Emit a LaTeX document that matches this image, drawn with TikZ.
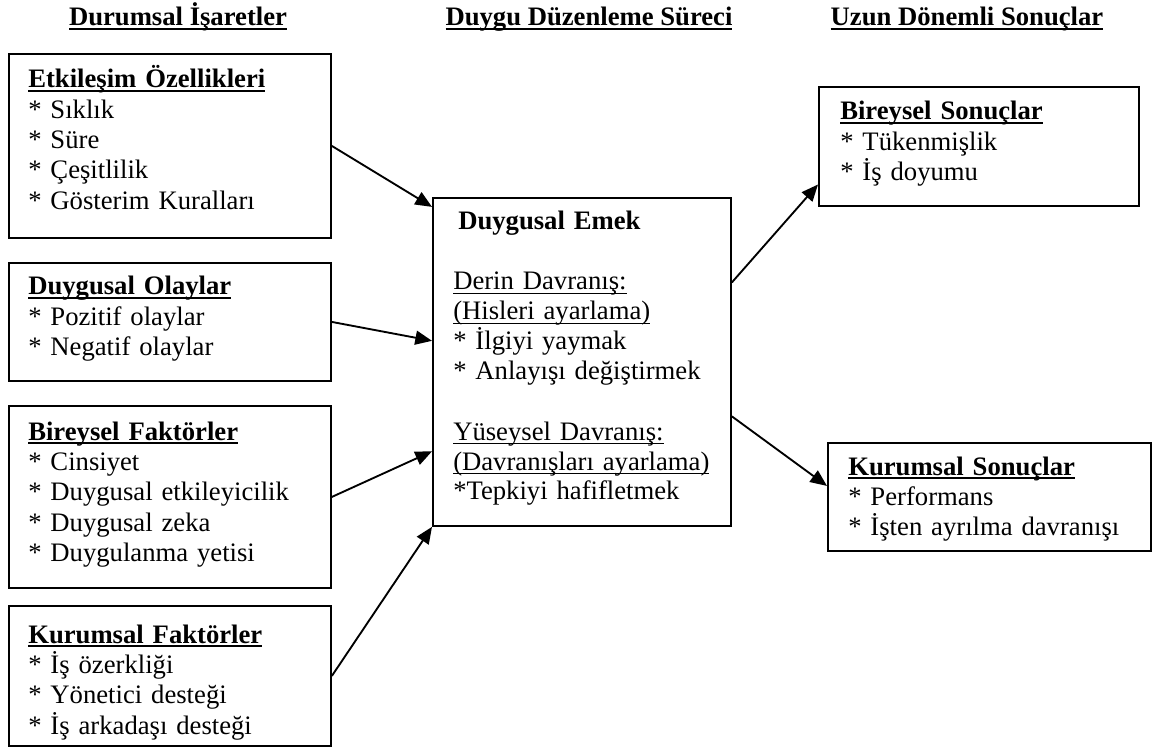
\documentclass[tikz,border=0pt]{standalone}
\usepackage{fontspec}
\setmainfont{Liberation Serif}
\usetikzlibrary{arrows.meta,calc}
\newcommand\ulb[1]{\leavevmode\setbox0\hbox{\bfseries #1}\rlap{\rule[-3.2pt]{\wd0}{1.5pt}}\box0}
\newcommand\uln[1]{\leavevmode\setbox0\hbox{#1}\rlap{\rule[-3pt]{\wd0}{0.9pt}}\box0}
\newcommand\itm{{*} }
\begin{document}
\begin{tikzpicture}[x=0.75pt,y=-0.75pt,
  frame/.style={draw=black, line width=1.4pt, inner sep=0pt, anchor=north west},
  txt/.style={font=\fontsize{20pt}{22.75pt}\selectfont, align=left, text width=300pt, inner sep=0pt, anchor=base west},
  hdr/.style={font=\fontsize{20pt}{22.75pt}\selectfont, inner sep=0pt, anchor=base},
  conn/.style={line width=1.4pt, -{Triangle[length=12.5pt,width=10.5pt]}}]
\useasboundingbox (0,0) rectangle (1155,748);

% headers
\node[hdr] (h1) at (178,26) {\ulb{Durumsal İşaretler}};
\node[hdr] (h2) at (589,26) {\ulb{Duygu Düzenleme Süreci}};
\node[hdr] (h3) at (967,26) {\ulb{Uzun Dönemli Sonuçlar}};

% left boxes
\node[frame, minimum width=241.5pt, minimum height=138pt] (b1) at (8,53) {};
\node[txt] (t1) at (28,88) {\ulb{Etkileşim Özellikleri}\\\itm Sıklık\\\itm Süre\\\itm Çeşitlilik\\\itm Gösterim Kuralları};

\node[frame, minimum width=241.5pt, minimum height=88.5pt] (b2) at (8,262) {};
\node[txt] (t2) at (28,295) {\ulb{Duygusal Olaylar}\\\itm Pozitif olaylar\\\itm Negatif olaylar};

\node[frame, minimum width=241.5pt, minimum height=136.5pt] (b3) at (8,405) {};
\node[txt] (t3) at (28,440) {\ulb{Bireysel Faktörler}\\\itm Cinsiyet\\\itm Duygusal etkileyicilik\\\itm Duygusal zeka\\\itm Duygulanma yetisi};

\node[frame, minimum width=241.5pt, minimum height=105pt] (b4) at (8,605) {};
\node[txt] (t4) at (28,643) {\ulb{Kurumsal Faktörler}\\\itm İş özerkliği\\\itm Yönetici desteği\\\itm İş arkadaşı desteği};

% centre box
\node[frame, minimum width=223.5pt, minimum height=246pt] (c) at (432,197) {};
\node[txt, font=\fontsize{20pt}{22.5pt}\selectfont] (tc) at (453,230) {\hspace*{3.75pt}\textbf{Duygusal Emek}\\[22.5pt]\uln{Derin Davranış:}\\\uln{(Hisleri ayarlama)}\\\itm İlgiyi yaymak\\\itm Anlayışı değiştirmek\\[22.5pt]\uln{Yüseysel Davranış:}\\\uln{(Davranışları ayarlama)}\\{*}Tepkiyi hafifletmek};

% right boxes
\node[frame, minimum width=240pt, minimum height=89.25pt] (bs) at (818,86) {};
\node[txt] (tbs) at (840,120) {\ulb{Bireysel Sonuçlar}\\\itm Tükenmişlik\\\itm İş doyumu};

\node[frame, minimum width=242.25pt, minimum height=81pt] (ks) at (827,442) {};
\node[txt] (tks) at (848,475) {\ulb{Kurumsal Sonuçlar}\\\itm Performans\\\itm İşten ayrılma davranışı};

% connectors
\draw[conn] (b1.east) -- ($(c.north west)!0.03!(c.south west)$);
\draw[conn] (b2.east) -- ($(c.north west)!0.436!(c.south west)$);
\draw[conn] (b3.east) -- ($(c.north west)!0.771!(c.south west)$);
\draw[conn] (b4.east) -- (c.south west);
\draw[conn] ($(c.north east)!0.259!(c.south east)$) -- ($(bs.north west)!0.815!(bs.south west)$);
\draw[conn] ($(c.north east)!0.665!(c.south east)$) -- ($(ks.north west)!0.40!(ks.south west)$);
\end{tikzpicture}
\end{document}
